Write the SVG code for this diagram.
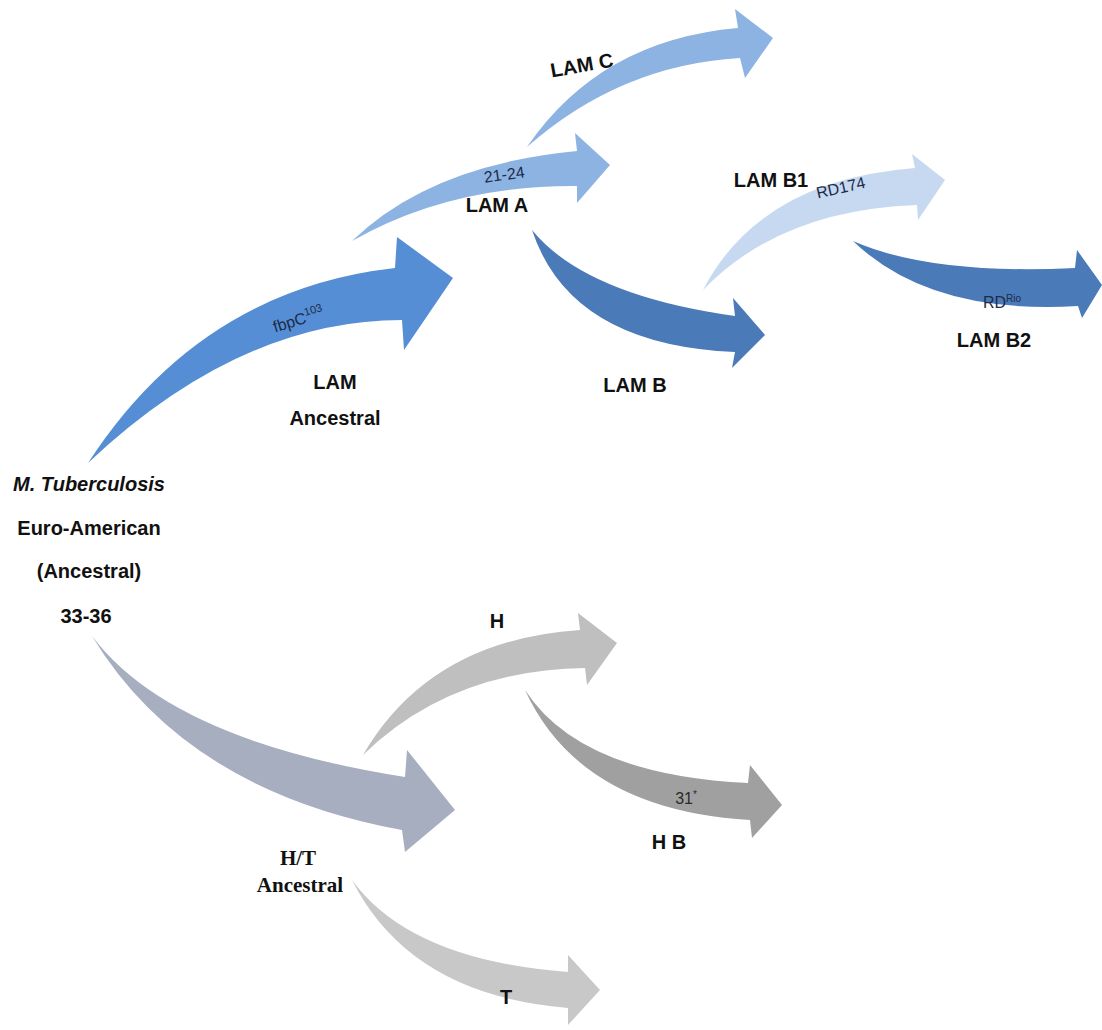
<svg xmlns="http://www.w3.org/2000/svg" width="1102" height="1030" viewBox="0 0 1102 1030">
<style>
.lbl{font-family:"Liberation Sans",Arial,sans-serif;font-weight:bold;font-size:20px;fill:#111;text-anchor:middle}
.in{font-family:"Liberation Sans",Arial,sans-serif;font-size:16px;fill:#1c2b48;text-anchor:middle}
.ser{font-family:"Liberation Serif","Times New Roman",serif;font-weight:bold;font-size:21px;fill:#111;text-anchor:middle}
</style>
<rect width="1102" height="1030" fill="#ffffff"/>
<g id="connectors">
  <path id="a-fbpc" fill="#558ed5" d="M88,463 Q200,290 395,268 L397,237 L453,278 L404,350 L402,320 Q240,320 88,463 Z"/>
  <path id="a-lamA" fill="#8db3e2" d="M352,241 Q430,165 577,151 L575,133 L610,165 L577,203 L577,186 Q450,185 352,241 Z"/>
  <path id="a-lamC" fill="#8db3e2" d="M527,147 Q600,40 738,28 L735,9 L773,38 L745,78 L740,58 Q620,65 527,147 Z"/>
  <path id="a-lamB" fill="#4a7ab8" d="M532,230 Q585,295 735,316 L733,298 L765,335 L732,368 L735,352 Q570,345 532,230 Z"/>
  <path id="a-lamB1" fill="#c6d9f1" d="M703,290 Q760,180 915,168 L912,154 L945,180 L918,220 L917,205 Q780,210 703,290 Z"/>
  <path id="a-lamB2" fill="#4a7ab8" d="M853,241 Q930,275 1075,268 L1077,250 L1102,285 L1082,318 L1078,306 Q930,315 853,241 Z"/>
  <path id="a-ht" fill="#a6aec0" d="M92,636 Q170,740 405,777 L407,750 L455,810 L405,852 L402,830 Q185,790 92,636 Z"/>
  <path id="a-h" fill="#bfbfbf" d="M363,755 Q430,640 580,630 L578,613 L617,643 L587,685 L585,668 Q450,670 363,755 Z"/>
  <path id="a-hb" fill="#a0a0a0" d="M525,690 Q580,775 748,783 L750,765 L782,805 L752,838 L750,820 Q580,810 525,690 Z"/>
  <path id="a-t" fill="#c8c8c8" d="M352,880 Q410,960 568,972 L568,955 L600,990 L568,1025 L568,1008 Q410,995 352,880 Z"/>
</g>
<g id="node-root">
  <text class="lbl" x="89" y="491" font-style="italic">M. Tuberculosis</text>
  <text class="lbl" x="89" y="535">Euro-American</text>
  <text class="lbl" x="89" y="578">(Ancestral)</text>
  <text class="lbl" x="86" y="623">33-36</text>
</g>
<g id="node-lam-ancestral">
  <text class="in" transform="translate(300,325) rotate(-17)">fbpC<tspan font-size="11" dy="-7">103</tspan></text>
  <text class="lbl" x="335" y="389">LAM</text>
  <text class="lbl" x="335" y="425">Ancestral</text>
</g>
<g id="node-lam-a">
  <text class="in" transform="translate(505,180) rotate(-8)">21-24</text>
  <text class="lbl" x="497" y="212">LAM A</text>
</g>
<g id="node-lam-c">
  <text class="lbl" transform="translate(583,72) rotate(-10)">LAM C</text>
</g>
<g id="node-lam-b">
  <text class="lbl" x="635" y="392">LAM B</text>
</g>
<g id="node-lam-b1">
  <text class="lbl" x="771" y="187">LAM B1</text>
  <text class="in" transform="translate(842,193) rotate(-13)">RD174</text>
</g>
<g id="node-lam-b2">
  <text class="in" x="1002" y="308">RD<tspan font-size="10" dy="-6">Rio</tspan></text>
  <text class="lbl" x="994" y="347">LAM B2</text>
</g>
<g id="node-ht">
  <text class="ser" x="298" y="865">H/T</text>
  <text class="ser" x="300" y="892">Ancestral</text>
</g>
<g id="node-hb">
  <text class="in" x="686" y="804" style="fill:#2a2a2a">31<tspan font-size="10" dy="-6">*</tspan></text>
  <text class="lbl" x="669" y="849">H B</text>
</g>
<g id="node-h">
  <text class="lbl" x="497" y="628">H</text>
</g>
<g id="node-t">
  <text class="lbl" x="506" y="1004">T</text>
</g>
</svg>
